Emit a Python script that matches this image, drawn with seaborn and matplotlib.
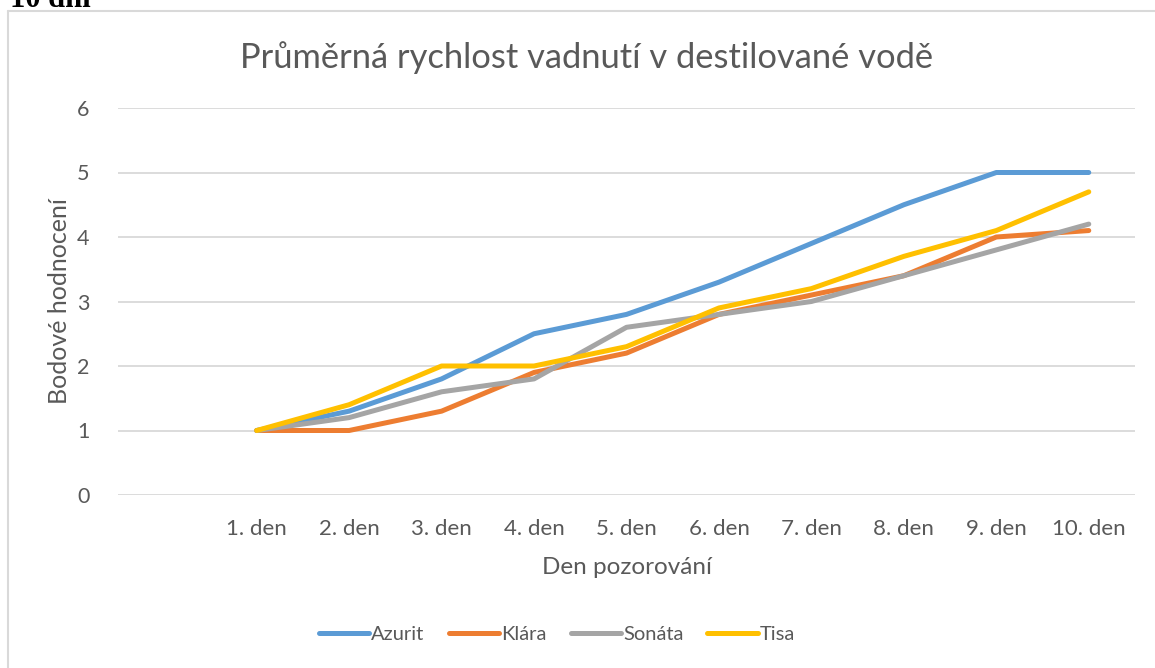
import pandas as pd
import matplotlib
matplotlib.use("Agg")
import matplotlib.pyplot as plt
import seaborn as sns

days = ["1. den", "2. den", "3. den", "4. den", "5. den",
        "6. den", "7. den", "8. den", "9. den", "10. den"]
azurit = [1.0, 1.3, 1.8, 2.5, 2.8, 3.3, 3.9, 4.5, 5.0, 5.0]
klara = [1.0, 1.0, 1.3, 1.9, 2.2, 2.8, 3.1, 3.4, 4.0, 4.1]
sonata = [1.0, 1.2, 1.6, 1.8, 2.6, 2.8, 3.0, 3.4, 3.8, 4.2]
tisa = [1.0, 1.4, 2.0, 2.0, 2.3, 2.9, 3.2, 3.7, 4.1, 4.7]
series_names = ["Azurit", "Klára", "Sonáta", "Tisa"]
colors = ["#5B9BD5", "#ED7D31", "#A5A5A5", "#FFC000"]

df = pd.concat([
    pd.DataFrame({"den": days, "hodnoceni": vals, "odruda": name})
    for name, vals in zip(series_names, [azurit, klara, sonata, tisa])
], ignore_index=True)

sns.set_theme(style="white")
plt.rcParams["font.family"] = ["Lato", "DejaVu Sans"]
text_color = "#595959"
grid_color = "#D9D9D9"

W, H = 1155, 668
fig = plt.figure(figsize=(W / 100, H / 100), dpi=100)
ax = fig.add_axes([118 / W, 1 - 495 / H, (1135 - 118) / W, (495 - 108) / H])

sns.lineplot(data=df, x="den", y="hodnoceni", hue="odruda",
             palette=dict(zip(series_names, colors)), linewidth=3.6,
             sort=False, ax=ax, legend=False)
for line in ax.lines:
    line.set_solid_capstyle("round")
    line.set_solid_joinstyle("round")

ax.set_xlim(-1.5, len(days) - 0.5)
ax.set_ylim(0, 6)
ax.set_yticks(range(0, 7))
ax.yaxis.grid(True, color=grid_color, linewidth=1.3)
ax.set_axisbelow(True)
for s in ax.spines.values():
    s.set_visible(False)
ax.tick_params(axis="both", length=0, colors=text_color)
ax.tick_params(axis="x", labelsize=16, pad=17)
ax.tick_params(axis="y", labelsize=15.5, pad=25)
for t in ax.get_yticklabels():
    t.set_horizontalalignment("center")

ax.set_xlabel("Den pozorování", fontsize=17.5, color=text_color, labelpad=13)
ax.set_ylabel("Bodové hodnocení", fontsize=18, color=text_color, labelpad=4)

fig.text(587 / W, 1 - 58 / H, "Průměrná rychlost vadnutí v destilované vodě",
         ha="center", va="center", fontsize=24.8, color=text_color)

handles = [plt.Line2D([0], [0], color=c, linewidth=3.6, solid_capstyle="round")
           for c in colors]
fig.legend(handles, series_names, loc="center", bbox_to_anchor=(557 / W, 1 - 634 / H),
           ncol=4, frameon=False, fontsize=14.5, handlelength=2.5, handletextpad=0.1,
           columnspacing=1.2, labelcolor=text_color)

# chart border (extends past right and bottom edges)
fig.add_artist(plt.Line2D([8 / W, 8 / W], [0, 1 - 11 / H], transform=fig.transFigure,
                          color=grid_color, linewidth=1.5))
fig.add_artist(plt.Line2D([8 / W, 1], [1 - 11 / H, 1 - 11 / H], transform=fig.transFigure,
                          color=grid_color, linewidth=1.5))

fig.text(10 / W, 1 - 7 / H, "10 dní", ha="left", va="baseline",
         fontsize=22, fontweight="bold", family="Liberation Serif", color="black")

fig.savefig("out.png", dpi=100)
